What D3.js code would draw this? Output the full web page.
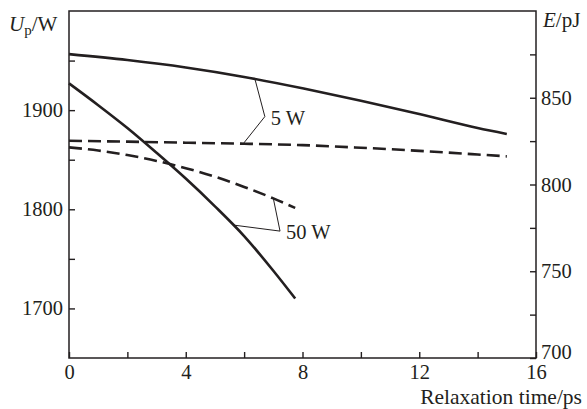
<!DOCTYPE html>
<html lang="en">
<head>
<meta charset="UTF-8">
<title>Relaxation time</title>
<script src="https://d3js.org/d3.v7.min.js"></script>
<style>
  body { margin: 0; background: #fff; }
  svg text { font-family: "Liberation Serif", "Times New Roman", serif !important; fill: #231f20; }
</style>
</head>
<body>
<svg class="chart"></svg>
<script>
// relaxation time, ps
const timeLong = [0, 2, 4, 6, 8, 10, 12, 14, 15]
const timeShort = [0, 1, 2, 3, 4, 5, 6, 7, 7.75]
// Up, W (solid, left axis)
const up5W = [1956.5, 1950.5, 1943, 1933.5, 1922, 1909.5, 1896, 1882, 1876]
const up50W = [1927, 1905, 1882, 1857, 1831, 1803, 1773, 1738, 1710]
// E, pJ (dashed, right axis)
const e5W = [825.2, 824.7, 824.1, 823.5, 822.7, 821.2, 819.4, 817.3, 816.2]
const e50W = [821.4, 819.6, 817.0, 813.6, 809.4, 804.5, 798.6, 792.0, 786.5]

const xTicks = [0, 4, 8, 12, 16]
const xMinor = [2, 6, 10, 14]
const upTicks = [1700, 1800, 1900]
const upMinor = [1750, 1850, 1950]
const eTicks = [700, 750, 800, 850]
const eMinor = [725, 775, 825, 875]

// leader lines: anchor time on solid & dashed curve, elbow (time, Up)
const labels = ['5 W', '50 W']
const solidAt = [6.37, 5.63]
const dashedAt = [5.97, 7.0]
const elbowT = [6.71, 7.23]
const elbowUp = [1893.5, 1778]

const W = 587, H = 409
const m = { top: 11, right: 51, bottom: 51, left: 69 }
const svg = d3.select('.chart').attr('width', W).attr('height', H)

const x = d3.scaleLinear().domain([0, 16]).range([m.left, W - m.right])
const yL = d3.scaleLinear().domain([1650, 2000]).range([H - m.bottom, m.top])
const yR = d3.scaleLinear().domain([700, 900]).range([H - m.bottom, m.top])

const ink = '#231f20'
const serif = '"Liberation Serif", "Times New Roman", serif'
const fs = 20.5

function styleAxis(g) {
  g.attr('font-family', serif).attr('font-size', fs)
  g.select('.domain').remove()
  g.selectAll('line').attr('stroke', ink).attr('stroke-width', 1.4)
  g.selectAll('text').attr('fill', ink)
}

// frame
svg.append('rect')
  .attr('x', x(0)).attr('y', yL(2000))
  .attr('width', x(16) - x(0)).attr('height', yL(1650) - yL(2000))
  .attr('fill', 'none').attr('stroke', ink).attr('stroke-width', 1.5)

// bottom axis
svg.append('g').attr('transform', `translate(0,${H - m.bottom})`)
  .call(d3.axisBottom(x).tickValues(xTicks.concat(xMinor)).tickSize(-6).tickPadding(6)
    .tickFormat(d => xTicks.includes(d) ? d : ''))
  .call(styleAxis)

// left axis
svg.append('g').attr('transform', `translate(${m.left},0)`)
  .call(d3.axisLeft(yL).tickValues(upTicks.concat(upMinor)).tickSize(-6).tickPadding(6)
    .tickFormat(d => upTicks.includes(d) ? d : ''))
  .call(styleAxis)

// right axis
const gR = svg.append('g').attr('transform', `translate(${W - m.right},0)`)
  .call(d3.axisRight(yR).tickValues(eTicks.concat(eMinor)).tickSize(-6).tickPadding(5)
    .tickFormat(d => eTicks.includes(d) ? d : ''))
  .call(styleAxis)
// bottom label sits a little higher to clear "16"
gR.selectAll('.tick').filter(d => d === 700).select('text').attr('y', -6)

// axis titles
const tl = svg.append('text').attr('x', 9).attr('y', 31).attr('font-size', 21)
tl.append('tspan').attr('font-style', 'italic').text('U')
tl.append('tspan').attr('font-size', 15).attr('dy', 4).text('p')
tl.append('tspan').attr('dy', -4).text('/W')

const tr = svg.append('text').attr('x', 543).attr('y', 27).attr('font-size', 21)
tr.append('tspan').attr('font-style', 'italic').text('E')
tr.append('tspan').text('/pJ')

svg.append('text').attr('x', W - 5).attr('y', H - 5).attr('text-anchor', 'end')
  .attr('font-size', 21.5).text('Relaxation time/ps')

// curves
const series = [
  { t: timeLong, v: up5W, y: yL, dash: null },
  { t: timeShort, v: up50W, y: yL, dash: null },
  { t: timeLong, v: e5W, y: yR, dash: '13,6' },
  { t: timeShort, v: e50W, y: yR, dash: '13,6' }
]
series.forEach(s => {
  const line = d3.line().x(d => x(d[0])).y(d => s.y(d[1])).curve(d3.curveMonotoneX)
  svg.append('path')
    .datum(d3.zip(s.t, s.v))
    .attr('d', line)
    .attr('fill', 'none')
    .attr('stroke', ink)
    .attr('stroke-width', 2.6)
    .attr('stroke-dasharray', s.dash)
})

// value on a series at time t
function at(ts, vs, t) {
  const i = Math.max(1, d3.bisectLeft(ts, t))
  const k = (t - ts[i - 1]) / (ts[i] - ts[i - 1])
  return vs[i - 1] + k * (vs[i] - vs[i - 1])
}

const solidSeries = [[timeLong, up5W], [timeShort, up50W]]
const dashedSeries = [[timeLong, e5W], [timeShort, e50W]]

labels.forEach((lab, i) => {
  const p1 = [x(solidAt[i]), yL(at(solidSeries[i][0], solidSeries[i][1], solidAt[i]))]
  const pe = [x(elbowT[i]), yL(elbowUp[i])]
  const p2 = [x(dashedAt[i]), yR(at(dashedSeries[i][0], dashedSeries[i][1], dashedAt[i]))]
  svg.append('path')
    .attr('d', d3.line()([p1, pe, p2]))
    .attr('fill', 'none').attr('stroke', ink).attr('stroke-width', 1)
  svg.append('text')
    .attr('x', pe[0] + 6).attr('y', pe[1] + 8)
    .attr('font-size', fs).text(lab)
})
</script>
</body>
</html>
